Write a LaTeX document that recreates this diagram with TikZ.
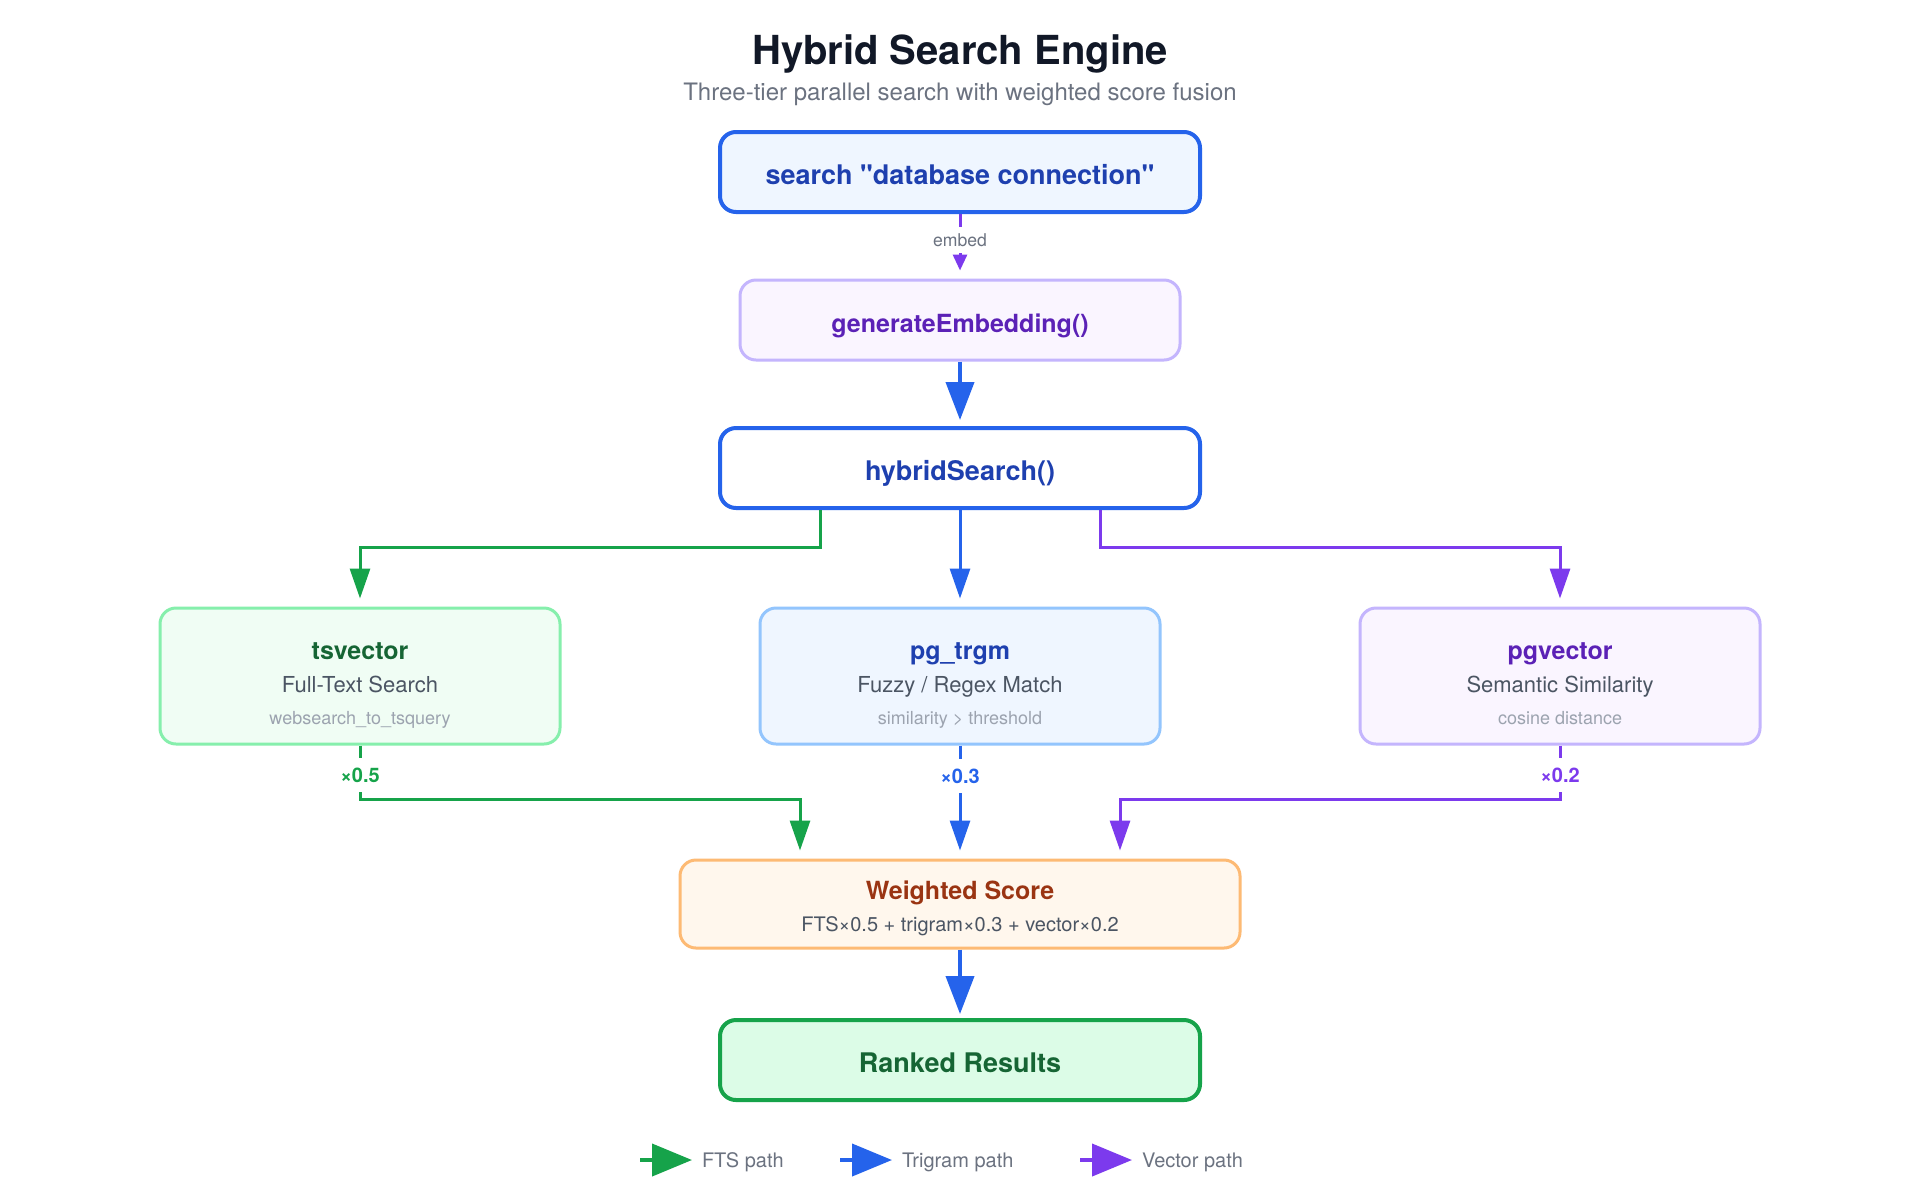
\documentclass[tikz,border=0pt]{standalone}
\usepackage{fontspec}
\setmainfont{TeX Gyre Heros}[Ligatures=TeXOff]
\usetikzlibrary{arrows.meta}
\definecolor{ink}{HTML}{111827}
\definecolor{muted}{HTML}{6B7280}
\definecolor{sub}{HTML}{4B5563}
\definecolor{faint}{HTML}{9CA3AF}
\definecolor{blueline}{HTML}{2563EB}
\definecolor{bluetext}{HTML}{1E40AF}
\definecolor{bluefill}{HTML}{EFF6FF}
\definecolor{blueedge}{HTML}{93C5FD}
\definecolor{greenline}{HTML}{16A34A}
\definecolor{greentext}{HTML}{166534}
\definecolor{greenfill}{HTML}{F0FDF4}
\definecolor{greenedge}{HTML}{86EFAC}
\definecolor{rankfill}{HTML}{DCFCE7}
\definecolor{purpleline}{HTML}{7C3AED}
\definecolor{purpletext}{HTML}{5B21B6}
\definecolor{purplefill}{HTML}{FAF5FF}
\definecolor{purpleedge}{HTML}{C4B5FD}
\definecolor{orangefill}{HTML}{FFF7ED}
\definecolor{orangeedge}{HTML}{FDBA74}
\definecolor{orangetext}{HTML}{9A3412}
\newcommand{\fsz}[1]{\fontsize{#1}{#1}\selectfont}

\begin{document}
\begin{tikzpicture}[x=1pt,y=-1pt,
  stage/.style={draw=blueline,line width=2pt,rounded corners=8pt,minimum width=240pt,minimum height=40pt,inner sep=0pt,text height=12pt,text depth=0pt},
  tier/.style={line width=1.5pt,rounded corners=8pt,minimum width=200pt,minimum height=68pt},
  ftsarrow/.style={draw=greenline,line width=1.5pt,shorten >=4pt,-{Triangle[length=15pt,width=10pt]}},
  trgarrow/.style={draw=blueline,line width=1.5pt,shorten >=4pt,-{Triangle[length=15pt,width=10pt]}},
  vecarrow/.style={draw=purpleline,line width=1.5pt,shorten >=4pt,-{Triangle[length=15pt,width=10pt]}},
  bigarrow/.style={draw=blueline,line width=2pt,shorten >=3pt,-{Triangle[length=19pt,width=14pt]}},
  wt/.style={fill=white,inner xsep=1pt,inner ysep=5pt,text height=7pt,text depth=0pt,font=\bfseries\fsz{10}}]
\fill[white](0,0)rectangle(960,600);
\useasboundingbox(0,0)rectangle(960,600);
\node[anchor=base,text=ink,font=\bfseries\fsz{20}](title)at(480,32){Hybrid Search Engine};
\node[anchor=base,text=muted,font=\fsz{12}](subtitle)at(480,50){Three-tier parallel search with weighted score fusion};
\node[stage,fill=bluefill,text=bluetext,font=\bfseries\fsz{13.5}](query)at(480,86){search "database connection"};
\node[stage,draw=purpleedge,line width=1.5pt,fill=purplefill,text=purpletext,minimum width=220pt,font=\bfseries\fsz{12.5}](gen)at(480,160){generateEmbedding()};
\node[stage,fill=white,text=bluetext,font=\bfseries\fsz{13.5}](hybrid)at(480,234){hybridSearch()};
\node[tier,draw=greenedge,fill=greenfill](fts)at(180,338){};
\node[tier,draw=blueedge,fill=bluefill](trgm)at(480,338){};
\node[tier,draw=purpleedge,fill=purplefill](vec)at(780,338){};
\node[anchor=base,text=greentext,font=\bfseries\fsz{12.5}](ftsname)at(180,329.5){tsvector};
\node[anchor=base,text=sub,font=\fsz{11}](ftssub)at(180,346){Full-Text Search};
\node[anchor=base,text=faint,font=\fsz{9}](ftscode)at(180,362){websearch\_to\_tsquery};
\node[anchor=base,text=bluetext,font=\bfseries\fsz{12.5}](trgmname)at(480,329.5){pg\_trgm};
\node[anchor=base,text=sub,font=\fsz{11}](trgmsub)at(480,346){Fuzzy / Regex Match};
\node[anchor=base,text=faint,font=\fsz{9}](trgmcode)at(480,362){similarity > threshold};
\node[anchor=base,text=purpletext,font=\bfseries\fsz{12.5}](vecname)at(780,329.5){pgvector};
\node[anchor=base,text=sub,font=\fsz{11}](vecsub)at(780,346){Semantic Similarity};
\node[anchor=base,text=faint,font=\fsz{9}](veccode)at(780,362){cosine distance};
\node[tier,draw=orangeedge,fill=orangefill,minimum width=280pt,minimum height=44pt](score)at(480,452){};
\node[anchor=base,text=orangetext,font=\bfseries\fsz{12.5}](scorename)at(480,449.5){Weighted Score};
\node[anchor=base,text=sub,font=\fsz{10}](scoresub)at(480,465.5){FTS×0.5 + trigram×0.3 + vector×0.2};
\node[stage,draw=greenline,fill=rankfill,text=greentext,font=\bfseries\fsz{13.5}](ranked)at(480,530){Ranked Results};
\draw[vecarrow,-{Triangle[length=8pt,width=7pt]}](query.south)--node[pos=.4,fill=white,text=muted,font=\fsz{8.8},inner xsep=1pt,inner ysep=3.5pt,text height=6.3pt,text depth=0pt](embedlabel){embed}(gen.north);
\draw[bigarrow](gen.south)--(hybrid.north);
\draw[ftsarrow]([xshift=-70pt]hybrid.south)--++(0,18.5)-|(fts.north);
\draw[trgarrow](hybrid.south)--(trgm.north);
\draw[vecarrow]([xshift=70pt]hybrid.south)--++(0,18.5)-|(vec.north);
\draw[ftsarrow](fts.south)--node[wt,pos=.55,text=greenline](ftsweight){×0.5}++(0,27)-|([xshift=-80pt]score.north);
\draw[trgarrow](trgm.south)--node[wt,pos=.27,text=blueline](trgmweight){×0.3}(score.north);
\draw[vecarrow](vec.south)--node[wt,pos=.55,text=purpleline](vecweight){×0.2}++(0,27)-|([xshift=80pt]score.north);
\draw[bigarrow,shorten >=2pt](score.south)--(ranked.north);
\foreach \x/\c/\t in {320/greenline/FTS path,420/blueline/Trigram path,540/purpleline/Vector path}
  \draw[\c,line width=2pt,-{Triangle[length=20pt,width=16pt]}](\x,580)--++(26,0)node[anchor=west,inner xsep=4pt,inner ysep=0pt,text height=7pt,text depth=0pt,text=muted,font=\fsz{10}](leg\x){\t};
\end{tikzpicture}
\end{document}
